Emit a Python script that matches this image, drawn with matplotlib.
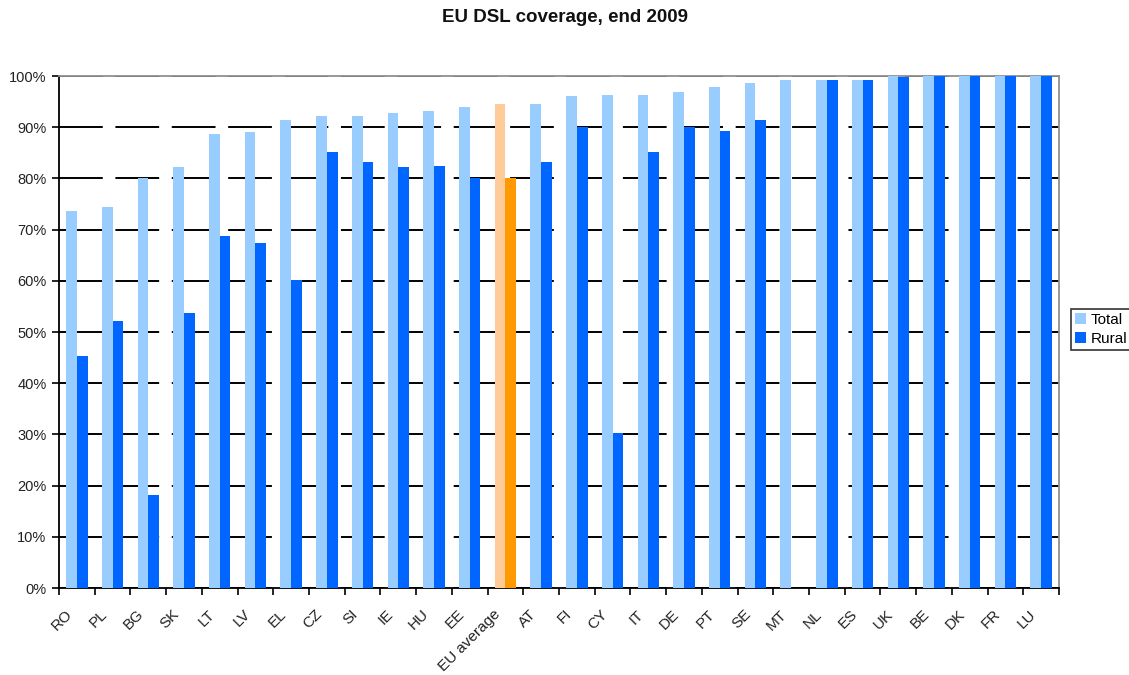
# EU DSL coverage chart, total vs rural, end 2009

import numpy as np
import matplotlib.pyplot as plt
from matplotlib.transforms import ScaledTranslation

plt.rcParams['font.family'] = ['Liberation Sans', 'DejaVu Sans']

countries = ['RO', 'PL', 'BG', 'SK', 'LT', 'LV', 'EL', 'CZ', 'SI', 'IE', 'HU', 'EE',
             'EU average', 'AT', 'FI', 'CY', 'IT', 'DE', 'PT', 'SE', 'MT', 'NL', 'ES',
             'UK', 'BE', 'DK', 'FR', 'LU']
total = [73.7, 74.5, 80.1, 82.2, 88.7, 89.0, 91.4, 92.2, 92.2, 92.7, 93.1, 93.9,
         94.5, 94.5, 96.0, 96.3, 96.3, 96.9, 97.8, 98.7, 99.3, 99.3, 99.3,
         100, 100, 100, 100, 100]
rural = [45.3, 52.2, 18.2, 53.7, 68.7, 67.3, 60.2, 85.1, 83.2, 82.2, 82.5, 80.1,
         80.0, 83.2, 90.0, 30.2, 85.2, 90.0, 89.2, 91.4, 0, 99.3, 99.3,
         99.9, 100, 100, 100, 100]

x = np.arange(len(countries))
w = 0.3

# EU average is highlighted in orange
light = ['#FFCC99' if c == 'EU average' else '#99CCFF' for c in countries]
dark = ['#FF9900' if c == 'EU average' else '#0066FF' for c in countries]

fig = plt.figure(figsize=(11.29, 6.75), dpi=100)
ax = fig.add_axes([59/1129, 1-588/675, 1000/1129, 512/675])

ax.bar(x - w/2, total, w, color=light, label='Total', zorder=3)
ax.bar(x + w/2, rural, w, color=dark, label='Rural', zorder=3)

# long-dash black gridlines behind the bars
ax.set_axisbelow(True)
ax.yaxis.grid(True, color='black', linewidth=1.4, linestyle=(0, (22.5, 6.5)), zorder=0)

ax.set_xlim(-0.5, len(countries) - 0.5)
ax.set_ylim(0, 100)
ax.set_yticks(np.arange(0, 101, 10))
ax.set_yticklabels([f'{v}%' for v in range(0, 101, 10)], fontsize=10.5, color='#222222')

# category labels at centres, tick marks on the boundaries
ax.set_xticks(x)
ax.set_xticklabels(countries, rotation=45, ha='right', rotation_mode='anchor',
                   fontsize=11, color='#222222')
ax.tick_params(axis='x', which='major', length=0, pad=8)
shift = ScaledTranslation(-0.12, -0.08, fig.dpi_scale_trans)
for lab in ax.get_xticklabels():
    lab.set_transform(lab.get_transform() + shift)
ax.set_xticks(np.arange(-0.5, len(countries)), minor=True)
ax.tick_params(axis='x', which='minor', length=5, width=1.2, direction='out')
ax.tick_params(axis='y', length=5, width=1.2, direction='out', pad=4)

for s in ['left', 'bottom']:
    ax.spines[s].set_color('black')
    ax.spines[s].set_linewidth(1.3)
for s in ['top', 'right']:
    ax.spines[s].set_color('#909090')
    ax.spines[s].set_linewidth(1.3)

fig.text(0.5, 1-18/675, 'EU DSL coverage, end 2009', ha='center', va='center',
         fontsize=13.5, fontweight='bold', color='#111111')

leg = fig.legend(loc='upper left', bbox_to_anchor=(1071/1129, 1-309/675),
                 fontsize=11, frameon=True, fancybox=False, edgecolor='black',
                 handlelength=0.75, handleheight=0.75, handletextpad=0.3,
                 borderpad=0.25, labelspacing=0.35, borderaxespad=0)
leg.get_frame().set_linewidth(1.2)

fig.savefig('out.png', dpi=100)
